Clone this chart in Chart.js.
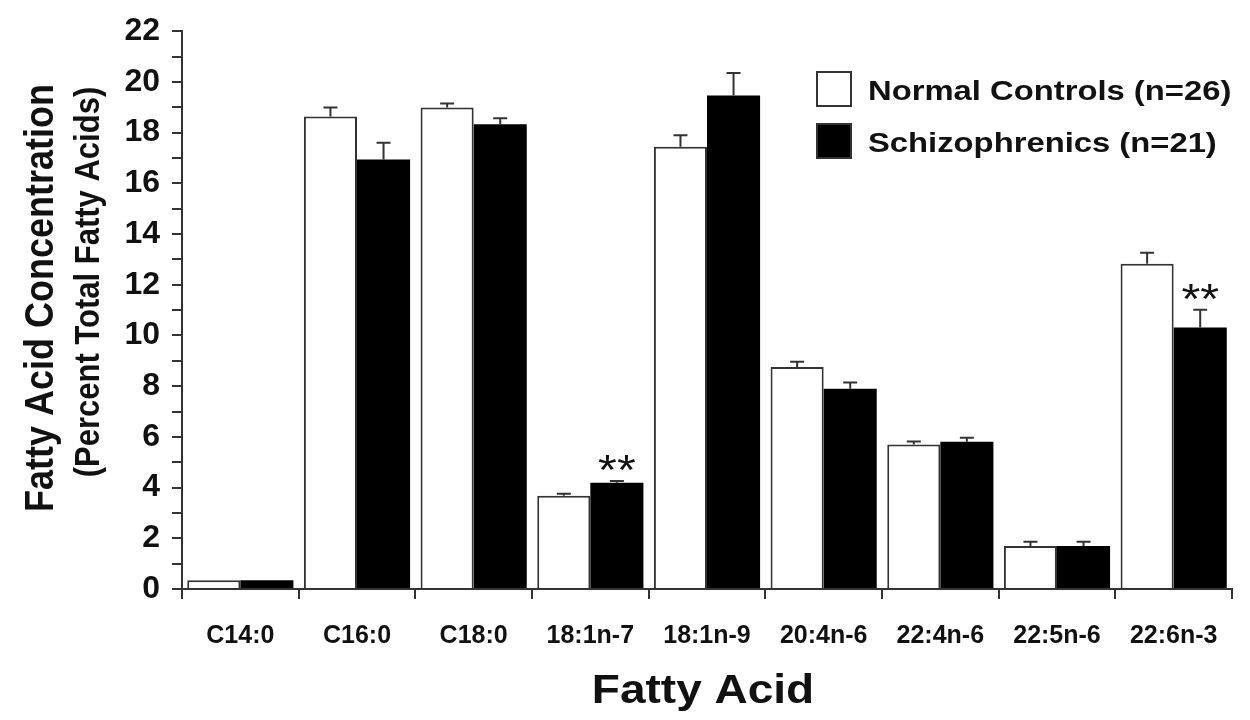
<!DOCTYPE html>
<html>
<head>
<meta charset="utf-8">
<script src="https://cdn.jsdelivr.net/npm/chart.js@4/dist/chart.umd.min.js"></script>
<style>
  html, body { margin: 0; padding: 0; background: #fff; }
</style>
</head>
<body>
<canvas id="fattyChart" width="1250" height="720"></canvas>
<script>
// fatty acid categories
const acids = ['C14:0', 'C16:0', 'C18:0', '18:1n-7', '18:1n-9', '20:4n-6', '22:4n-6', '22:5n-6', '22:6n-3'];

// mean values (percent of total fatty acids) and SEM
const controls = [0.35, 18.64, 18.99, 3.68, 17.44, 8.76, 5.70, 1.70, 12.83];
const controlsErr = [0, 0.35, 0.16, 0.08, 0.46, 0.20, 0.12, 0.16, 0.43];
const schizo = [0.35, 16.94, 18.33, 4.19, 19.46, 7.90, 5.81, 1.70, 10.31];
const schizoErr = [0, 0.66, 0.24, 0.07, 0.89, 0.24, 0.16, 0.16, 0.70];

// significance marks above the schizophrenic bars
const sigMarks = ['', '', '', '**', '', '', '', '', '**'];

// y axis
const yMin = 0;
const yMax = 22;
const yStep = 1;
const yLabelEvery = 2;

const FONT = "'Liberation Sans', Arial, Helvetica, sans-serif";
const INK = '#111';
const STRETCH = 1.15; // the original figure is a bit wider than tall

function stretchedText(ctx, text, x, y, font, align, rotate, baseline) {
    ctx.save();
    ctx.translate(x, y);
    if (rotate) {
        ctx.rotate(-Math.PI / 2);
        ctx.scale(1, STRETCH);
    } else {
        ctx.scale(STRETCH, 1);
    }
    ctx.font = font;
    ctx.fillStyle = INK;
    ctx.textAlign = align;
    ctx.textBaseline = baseline || 'middle';
    ctx.fillText(text, 0, 0);
    ctx.restore();
}

// error bars + asterisks
const errorBars = {
    id: 'errorBars',
    afterDatasetsDraw(chart) {
        const ctx = chart.ctx;
        const y = chart.scales.y;
        const errs = [controlsErr, schizoErr];
        ctx.save();
        ctx.strokeStyle = '#333';
        ctx.lineWidth = 2;
        chart.data.datasets.forEach((ds, di) => {
            const meta = chart.getDatasetMeta(di);
            meta.data.forEach((bar, i) => {
                const err = errs[di][i];
                if (!err) return;
                const top = y.getPixelForValue(ds.data[i] + err);
                ctx.beginPath();
                ctx.moveTo(bar.x, bar.y);
                ctx.lineTo(bar.x, top);
                ctx.moveTo(bar.x - 7, top);
                ctx.lineTo(bar.x + 7, top);
                ctx.stroke();
            });
        });
        ctx.restore();
        const meta = chart.getDatasetMeta(1);
        meta.data.forEach((bar, i) => {
            if (!sigMarks[i]) return;
            const top = y.getPixelForValue(schizo[i] + schizoErr[i]);
            stretchedText(ctx, sigMarks[i], bar.x, top + 3, '42px ' + FONT, 'center', false, 'alphabetic');
        });
    }
};

// axis titles and legend drawn by hand to match the figure
const decorations = {
    id: 'decorations',
    afterDraw(chart) {
        const ctx = chart.ctx;
        const area = chart.chartArea;
        stretchedText(ctx, 'Fatty Acid Concentration', 42, 298, 'bold 36px ' + FONT, 'center', true);
        stretchedText(ctx, '(Percent Total Fatty Acids)', 89, 282, 'bold 31px ' + FONT, 'center', true);
        stretchedText(ctx, 'Fatty Acid', (area.left + area.right) / 2 - 4, 692, 'bold 40px ' + FONT, 'center', false);

        // legend
        const boxX = 817, boxW = 34, rowY = [72, 124];
        chart.data.datasets.forEach((ds, i) => {
            ctx.save();
            ctx.fillStyle = ds.backgroundColor;
            ctx.fillRect(boxX, rowY[i], boxW, boxW);
            ctx.strokeStyle = '#333';
            ctx.lineWidth = 2;
            ctx.strokeRect(boxX, rowY[i], boxW, boxW);
            ctx.restore();
            stretchedText(ctx, ds.label, 868, rowY[i] + 20, 'bold 28.5px ' + FONT, 'left', false);
        });
    }
};

const ctx = document.getElementById('fattyChart').getContext('2d');
new Chart(ctx, {
    type: 'bar',
    data: {
        labels: acids,
        datasets: [
            {
                label: 'Normal Controls (n=26)',
                data: controls,
                backgroundColor: '#ffffff',
                borderColor: '#333333',
                borderWidth: 2
            },
            {
                label: 'Schizophrenics (n=21)',
                data: schizo,
                backgroundColor: '#000000',
                borderColor: '#000000',
                borderWidth: 0
            }
        ]
    },
    options: {
        responsive: false,
        animation: false,
        devicePixelRatio: 1,
        layout: { padding: { left: 0, right: 18, top: 21, bottom: 0 } },
        datasets: {
            bar: { categoryPercentage: 0.91, barPercentage: 1.0 }
        },
        plugins: {
            legend: { display: false },
            tooltip: { enabled: false }
        },
        scales: {
            x: {
                afterFit(scale) { scale.height = 131; },
                grid: {
                    offset: true,
                    drawOnChartArea: false,
                    tickLength: 10,
                    color: '#333',
                    lineWidth: 2
                },
                border: { display: true, color: '#333', width: 2 },
                ticks: {
                    font: { family: FONT, size: 25, weight: 'bold' },
                    color: INK,
                    padding: 22,
                    maxRotation: 0,
                    autoSkip: false
                }
            },
            y: {
                min: yMin,
                max: yMax,
                afterFit(scale) { scale.width = 182; },
                grid: {
                    drawOnChartArea: false,
                    tickLength: 10,
                    color: '#333',
                    lineWidth: 2
                },
                border: { display: true, color: '#333', width: 2 },
                ticks: {
                    stepSize: yStep,
                    autoSkip: false,
                    font: { family: FONT, size: 32, weight: 'bold' },
                    color: INK,
                    padding: 12,
                    callback: (v) => (v % yLabelEvery === 0 ? v : '')
                }
            }
        }
    },
    plugins: [errorBars, decorations]
});
</script>
</body>
</html>
